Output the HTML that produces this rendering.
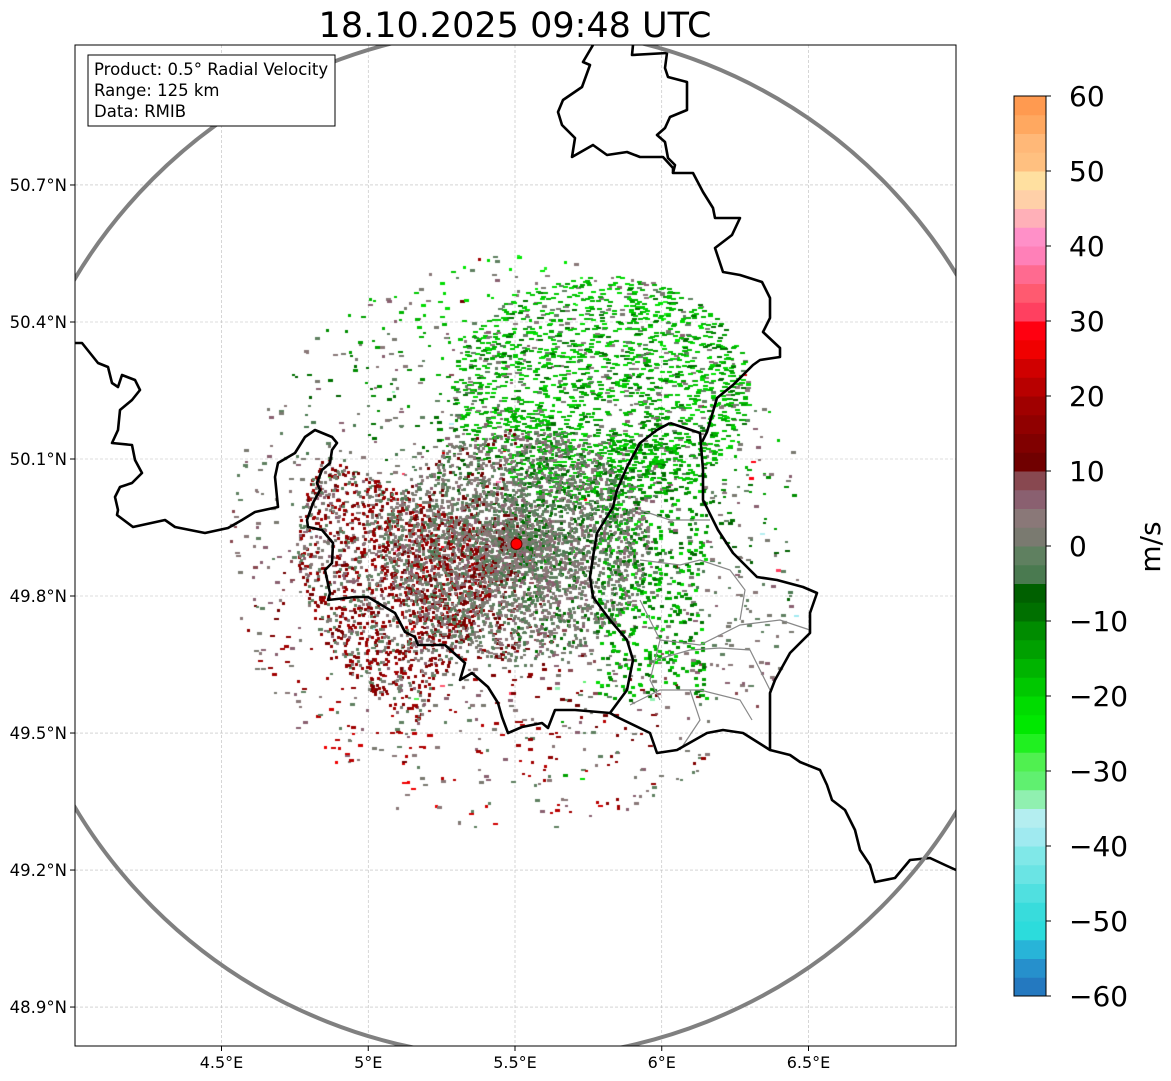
<!DOCTYPE html>
<html><head><meta charset="utf-8">
<style>
html,body{margin:0;padding:0;background:#fff;width:1171px;height:1081px;overflow:hidden;font-family:"DejaVu Sans","Liberation Sans",sans-serif}
#wrap{position:relative;width:1171px;height:1081px}
canvas,svg{position:absolute;left:0;top:0}
text{font-family:"DejaVu Sans","Liberation Sans",sans-serif}
</style></head>
<body>
<div id="wrap">
<svg id="bg" width="1171" height="1081"></svg>
<canvas id="cv" width="1171" height="1081"></canvas>
<svg id="fg" width="1171" height="1081"></svg>
</div>
<script>
const lonTicks=[4.5,5,5.5,6,6.5];
const lonLabels=["4.5°E","5°E","5.5°E","6°E","6.5°E"];
const latTicks=[50.7,50.4,50.1,49.8,49.5,49.2,48.9];
const latLabels=["50.7°N","50.4°N","50.1°N","49.8°N","49.5°N","49.2°N","48.9°N"];
const cbTicks=[60,50,40,30,20,10,0,-10,-20,-30,-40,-50,-60];
const cbLabels=["60","50","40","30","20","10","0","\u221210","\u221220","\u221230","\u221240","\u221250","\u221260"];
const cbColors=["#2479c0","#2690cc","#28b4d8","#2cdcdc","#38dcdc","#50e0e0","#6ae4e4","#80e8e8",
"#a0eaf0","#b4eef0","#90f0b0","#60f070","#50f050","#20f020","#00e800","#00dc00",
"#00c800","#00b400","#00a000","#008c00","#007000","#006000","#4a7a50","#5f8060",
"#7a7a70","#8a7878","#8a6070","#884850","#700000","#800000","#900000","#a00000",
"#b80000","#d00000","#f00000","#ff0010","#ff4060","#ff5a70","#ff6a90","#ff80b8",
"#ff90c8","#ffb0b8","#ffd0a8","#ffe0a0","#ffc080","#ffb878","#ffa860","#ff9a50"];
const radarLon=5.505, radarLat=49.914;

const PX0=75,PX1=956,PY0=45,PY1=1046;
const xS=lon=>515+(lon-5.5)*293.5;
const yS=lat=>459-(lat-50.1)*456.7;
const cbY=v=>546-v*7.5;
const NS="http://www.w3.org/2000/svg";
function mk(parent,tag,attrs,name,txt){const e=document.createElementNS(NS,tag);for(const k in attrs)e.setAttribute(k,attrs[k]);


if(txt!==undefined)e.textContent=txt;parent.appendChild(e);return e;}
const bg=document.getElementById('bg'),fg=document.getElementById('fg');
lonTicks.forEach((t,i)=>{mk(bg,'line',{x1:xS(t),x2:xS(t),y1:PY0,y2:PY1,stroke:'#bbb','stroke-width':0.6,'stroke-dasharray':'3,2'},'lon-gridline');});
latTicks.forEach((t,i)=>{mk(bg,'line',{x1:PX0,x2:PX1,y1:yS(t),y2:yS(t),stroke:'#bbb','stroke-width':0.6,'stroke-dasharray':'3,2'},'lat-gridline');});

const cv=document.getElementById('cv'),ctx=cv.getContext('2d');
ctx.save();ctx.beginPath();ctx.rect(PX0,PY0,PX1-PX0,PY1-PY0);ctx.clip();
let seed=12345;function rnd(){seed=(seed*1103515245+12345)&0x7fffffff;return seed/0x7fffffff;}
function colorFor(v){let i=Math.floor((v+60)/2.5);i=Math.max(0,Math.min(47,i));return cbColors[i];}
const cx=xS(radarLon),cy=yS(radarLat);
function echo(x,y,v,w,h){ctx.fillStyle=colorFor(v);ctx.fillRect(Math.round(x),Math.round(y),w,h);}
// broad sparse field
for(let n=0;n<4000;n++){
  const a=rnd()*Math.PI*2;
  const r=290*Math.pow(rnd(),1.1);
  const x=cx+Math.cos(a)*r, y=cy-Math.sin(a)*r;
  const d=r/290;
  let v;
  const s=Math.cos(a-Math.PI*0.4);
  if(rnd()<0.55) v=(rnd()-0.5)*9+2;
  else v=-s*(20*d+6)+(rnd()-0.5)*6;
  if(rnd()>0.96)v=(rnd()-0.5)*80;
  echo(x,y,v,rnd()<0.5?5:3,2+(rnd()<0.5?1:0));
}
// green northern field
for(let n=0;n<3000;n++){
  const a=rnd()*Math.PI*2, r=135*Math.sqrt(rnd());
  const x=600+Math.cos(a)*r*1.1, y=390+Math.sin(a)*r*0.85;
  if(rnd()<0.25)continue;
  echo(x,y,rnd()<0.7?-14-rnd()*7:(rnd()<0.5?-8:(rnd()-0.5)*8),5,2);
}
// east side green speckle
for(let n=0;n<450;n++){
  const x=595+rnd()*110, y=440+rnd()*260;
  echo(x,y,-8-rnd()*14,4,3);
}
// red west side
for(let n=0;n<1700;n++){
  const a=Math.PI*(0.85+rnd()*0.5), r=30+Math.pow(rnd(),0.8)*190;
  const v=rnd()<0.55?12+rnd()*8:(rnd()-0.5)*9+2;
  echo(cx+Math.cos(a)*r,cy-Math.sin(a)*r*0.9,v,3,3);
}
// gray core
for(let n=0;n<5500;n++){
  const a=rnd()*Math.PI*2,r=115*Math.pow(rnd(),0.75);
  const v=rnd()<0.85?(rnd()-0.5)*9+1:(Math.cos(a)>0?-10:12);
  echo(cx+Math.cos(a)*r*1.15,cy-Math.sin(a)*r,v,3,3);
}
ctx.restore();

const borders=[
 [[75,343],[82,343],[98,363],[108,367],[112,383],[118,387],[122,375],[135,380],[140,390],[132,400],[120,410],[118,430],[112,443],[132,445],[135,460],[142,473],[132,483],[120,487],[115,497],[118,510],[117,515],[133,527],[165,520],[175,527],[205,533],[228,528],[242,520],[255,512],[278,507],[275,477],[278,463],[295,453],[305,437],[315,430],[332,437],[337,443],[332,450],[330,463],[322,470],[317,483],[320,490],[313,503],[307,520],[308,527],[322,530],[333,543],[332,563],[325,570],[330,593],[328,600],[355,597],[368,597],[395,613],[405,632],[415,637],[418,645],[445,645],[465,663],[460,680],[472,673],[488,687],[498,703],[502,717],[508,733],[522,727],[542,723],[548,728],[555,710],[575,710],[610,713]],
 [[593,45],[583,62],[590,65],[582,87],[563,100],[558,112],[562,125],[575,138],[572,157],[593,145],[607,155],[627,152],[640,157],[663,157],[673,168],[673,173]],
 [[633,45],[632,55],[667,53],[665,68],[668,77],[687,82],[687,110],[670,117],[665,128],[657,135],[665,142],[668,158],[675,165],[673,173],[693,173],[703,192],[713,208],[715,218],[740,218],[732,235],[715,248],[723,272],[740,275],[762,282],[770,298],[770,318],[763,332],[780,348],[780,357],[760,360],[753,365],[743,375],[733,385],[717,398],[712,415],[707,432],[702,442]],
 [[670,423],[700,433],[703,470],[703,500],[718,530],[733,553],[757,577],[777,580],[803,587],[817,593],[810,613],[810,633],[790,653],[775,680],[770,693],[770,750],[743,733],[723,730],[707,733],[677,750],[657,753],[650,733],[617,717],[610,713],[627,690],[633,660],[627,640],[610,620],[593,597],[590,577],[593,557],[597,533],[613,507],[617,490],[627,467],[640,443],[657,430],[670,423]],
 [[770,750],[790,755],[800,762],[820,770],[827,785],[832,800],[845,810],[855,830],[860,850],[870,865],[875,882],[895,878],[910,860],[930,858],[945,865],[956,870]]
];
const cantons=[
 [[640,510],[670,520],[690,520],[710,520]],[[640,560],[680,565],[700,560],[730,570],[745,590],[740,620]],
 [[660,640],[700,645],[740,625],[780,620],[810,630]],[[655,660],[690,650],[720,648],[750,650],[770,690]],
 [[630,705],[660,690],[700,690],[740,700],[752,720]],[[680,750],[700,720],[690,690]],[[640,600],[660,640],[650,680],[660,700]]
];
mk(fg,'defs',{},'defs').innerHTML='<clipPath id="pc"><rect x="75" y="45" width="881" height="1001"/></clipPath>';
const g=mk(fg,'g',{'clip-path':'url(#pc)'},'map-layers');
cantons.forEach(p=>mk(g,'polyline',{points:p.map(q=>q.join(',')).join(' '),fill:'none',stroke:'#888','stroke-width':1.2},'canton-boundary'));
borders.forEach(p=>mk(g,'polyline',{points:p.map(q=>q.join(',')).join(' '),fill:'none',stroke:'#000','stroke-width':2.6,'stroke-linejoin':'round'},'country-border'));
mk(g,'ellipse',{cx:517,cy:543,rx:515,ry:515,fill:'none',stroke:'#808080','stroke-width':4},'range-ring');
mk(fg,'circle',{cx:cx,cy:cy,r:5.5,fill:'#f00',stroke:'#600','stroke-width':1},'radar-site-marker');
mk(fg,'rect',{x:PX0,y:PY0,width:PX1-PX0,height:PY1-PY0,fill:'none',stroke:'#000','stroke-width':1},'plot-frame');
lonTicks.forEach((t,i)=>{mk(fg,'line',{x1:xS(t),x2:xS(t),y1:PY1,y2:PY1+5,stroke:'#000'},'x-tick');
 mk(fg,'text',{x:xS(t),y:PY1+22,'font-size':16,'text-anchor':'middle'},'x-tick-label',lonLabels[i]);});
latTicks.forEach((t,i)=>{mk(fg,'line',{x1:PX0-5,x2:PX0,y1:yS(t),y2:yS(t),stroke:'#000'},'y-tick');
 mk(fg,'text',{x:PX0-8,y:yS(t)+6,'font-size':16.5,'text-anchor':'end'},'y-tick-label',latLabels[i]);});
mk(fg,'text',{x:515,y:37,'font-size':35,'text-anchor':'middle'},'chart-title','18.10.2025 09:48 UTC');
mk(fg,'rect',{x:88,y:55,width:247,height:71,fill:'#fff',stroke:'#000','stroke-width':1},'info-box');
["Product: 0.5° Radial Velocity","Range: 125 km","Data: RMIB"].forEach((s,i)=>mk(fg,'text',{x:94,y:75+i*21,'font-size':16.5},'info-line',s));
const cbx=1014,cbw=32;
cbColors.forEach((c,i)=>{const v0=-60+i*2.5;mk(fg,'rect',{x:cbx,y:cbY(v0+2.5),width:cbw,height:cbY(v0)-cbY(v0+2.5)+0.5,fill:c},'colorbar-band');});
mk(fg,'rect',{x:cbx,y:cbY(60),width:cbw,height:cbY(-60)-cbY(60),fill:'none',stroke:'#000','stroke-width':1},'colorbar-frame');
cbTicks.forEach((t,i)=>{mk(fg,'line',{x1:cbx+cbw,x2:cbx+cbw+5,y1:cbY(t),y2:cbY(t),stroke:'#000'},'colorbar-tick');
 mk(fg,'text',{x:1069,y:cbY(t)+10,'font-size':28},'colorbar-tick-label',cbLabels[i]);});
mk(fg,'text',{x:1160,y:547,'font-size':28,'text-anchor':'middle',transform:'rotate(-90 1160 547)'},'colorbar-label','m/s');
</script>
</body></html>
